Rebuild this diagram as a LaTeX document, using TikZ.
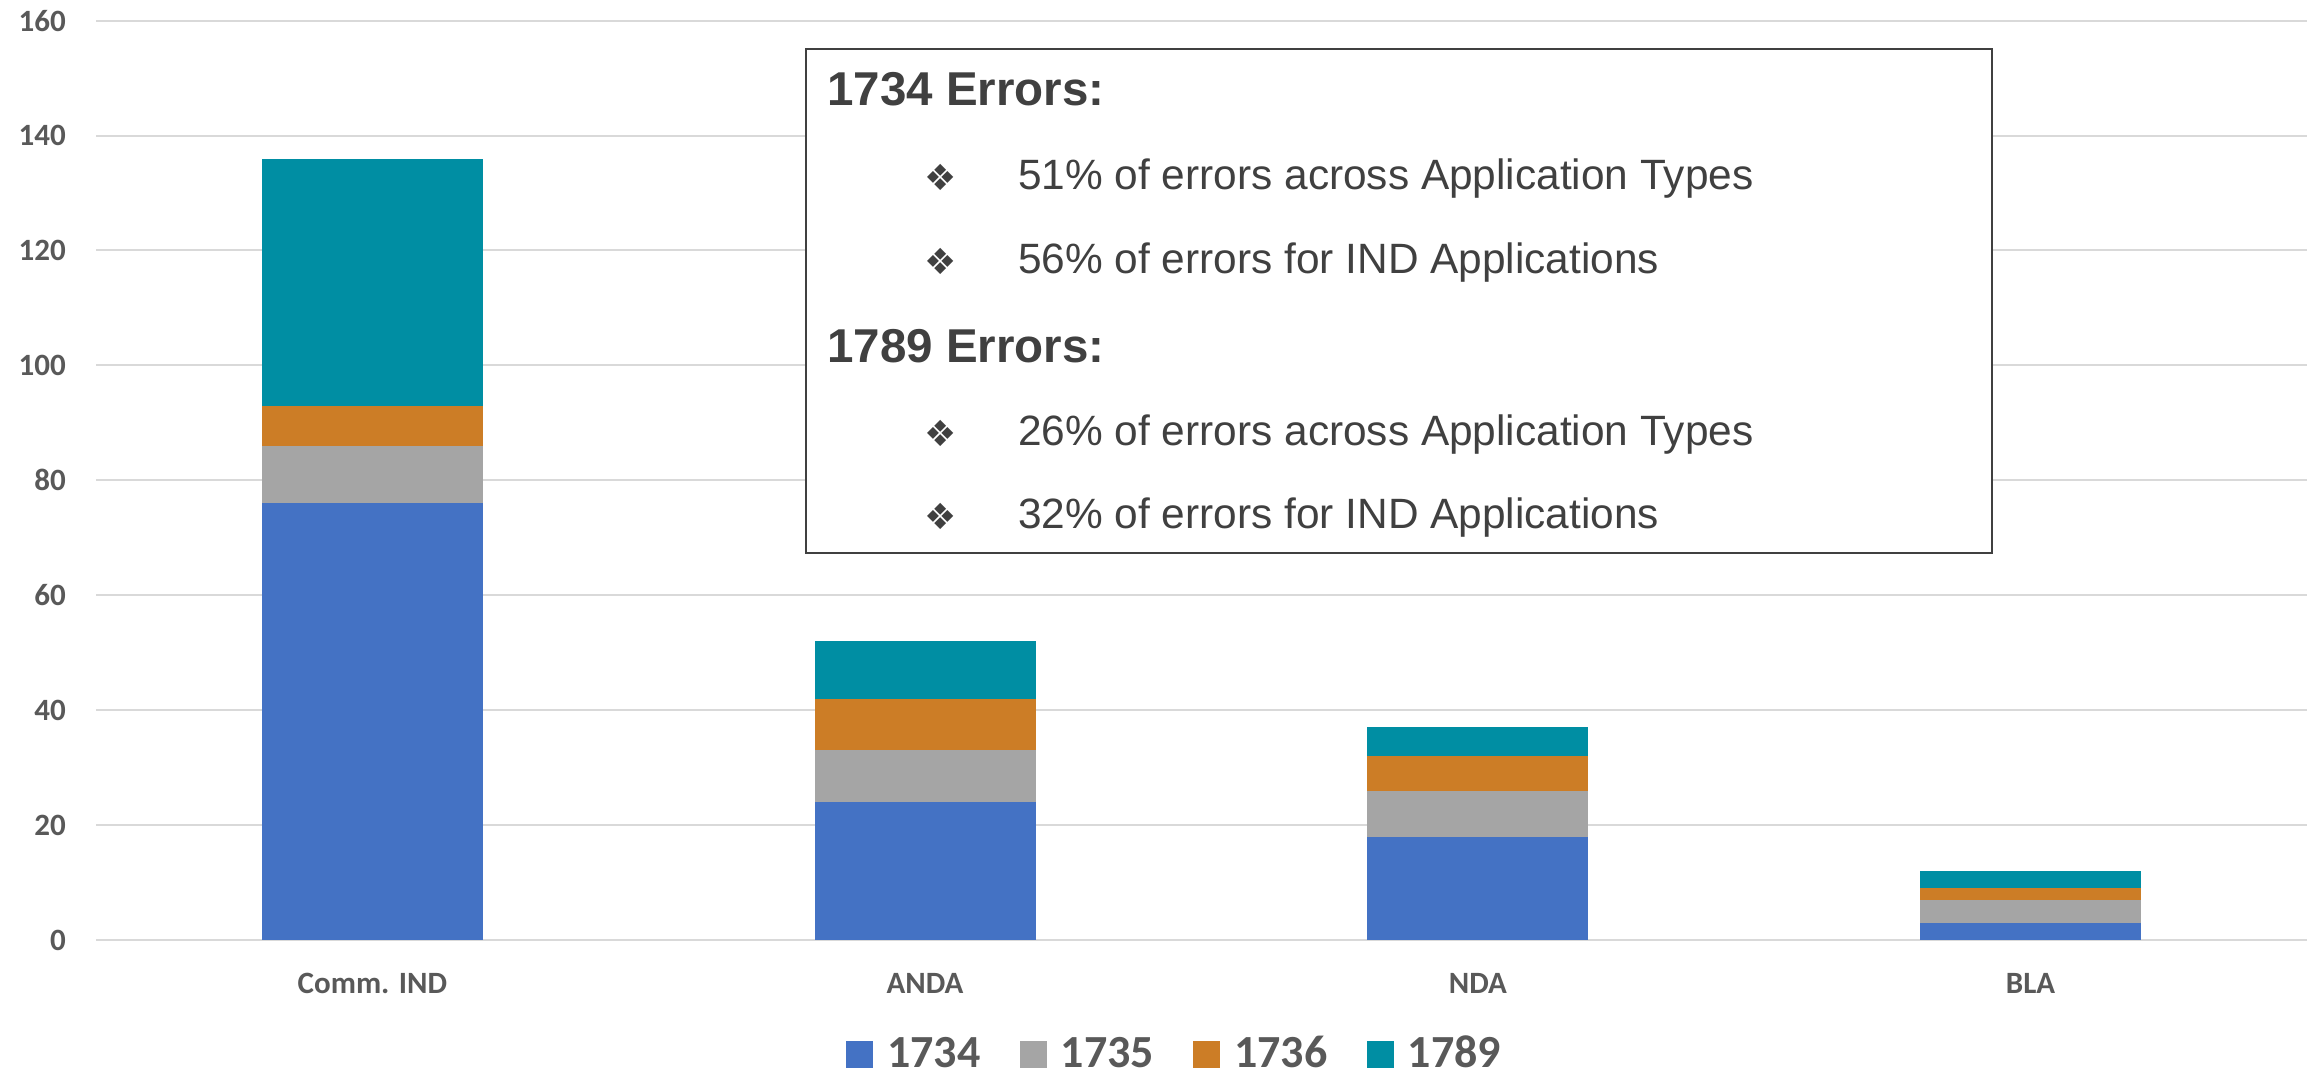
\documentclass[tikz,border=0pt]{standalone}
\usepackage{fontspec}
\newfontfamily\axisfont{Carlito}
\newfontfamily\boxfont{Liberation Sans}
\newfontfamily\dingfont{DejaVu Sans}
\definecolor{cA}{HTML}{4472C4}
\definecolor{cB}{HTML}{A5A5A5}
\definecolor{cC}{HTML}{CC7D26}
\definecolor{cD}{HTML}{008EA3}
\definecolor{gridc}{HTML}{D9D9D9}
\definecolor{axtext}{HTML}{595959}
\definecolor{boxtext}{HTML}{404040}
\tikzset{
  gridline/.style={draw=gridc, line width=2pt},
  ylab/.style={anchor=east, inner sep=0pt, text=axtext, font=\axisfont\bfseries\fontsize{31}{37}\selectfont},
  xlab/.style={anchor=base, inner sep=0pt, text=axtext, font=\axisfont\bfseries\fontsize{31}{37}\selectfont},
  leglab/.style={anchor=base west, inner sep=0pt, text=axtext, font=\axisfont\bfseries\fontsize{46}{55}\selectfont},
  boxhead/.style={anchor=base west, inner sep=0pt, text=boxtext, font=\boxfont\bfseries\fontsize{47.5}{56}\selectfont},
  boxline/.style={anchor=base west, inner sep=0pt, text=boxtext, font=\boxfont\fontsize{42.4}{50}\selectfont},
  ding/.style={anchor=center, inner sep=0pt, text=boxtext, font=\dingfont\fontsize{36}{42}\selectfont},
  infobox/.style={draw=boxtext, line width=1.6pt, fill=white}
}
\begin{document}
\begin{tikzpicture}[x=1pt,y=-1pt]
\useasboundingbox (0,0) rectangle (2315,1073);
% grid and y labels
\foreach \v in {0,20,...,160}{
  \draw[gridline] (96,{940-5.746*\v}) -- (2307,{940-5.746*\v});
  \node[ylab] (y\v) at (66,{940-5.746*\v}) {\v};
}
% bars
\foreach \i/\c/\a/\b/\cc/\d/\name in {1/372.4/76/86/93/136/Comm. IND, 2/925.1/24/33/42/52/ANDA, 3/1477.9/18/26/32/37/NDA, 4/2030.6/3/7/9/12/BLA}{
  \fill[cA] ({\c-110.5},940) rectangle ({\c+110.5},{940-5.746*\a});
  \fill[cB] ({\c-110.5},{940-5.746*\a}) rectangle ({\c+110.5},{940-5.746*\b});
  \fill[cC] ({\c-110.5},{940-5.746*\b}) rectangle ({\c+110.5},{940-5.746*\cc});
  \fill[cD] ({\c-110.5},{940-5.746*\cc}) rectangle ({\c+110.5},{940-5.746*\d});
  \node[xlab] (x\i) at (\c,993) {\name};
}
% legend
\foreach \k/\px/\col in {1734/846/cA, 1735/1019.5/cB, 1736/1193/cC, 1789/1366.5/cD}{
  \fill[\col] (\px,1041) rectangle ({\px+27},1068);
  \node[leglab] (l\k) at ({\px+41},1067) {\k};
}
% info box
\draw[infobox] (806,49) rectangle (1992,553);
\node[boxhead] (h1) at (827,105) {1734 Errors:};
\node[ding] (d1) at (941,177) {❖};
\node[boxline] (t1) at (1018,189) {51\% of errors across Application Types};
\node[ding] (d2) at (941,261) {❖};
\node[boxline] (t2) at (1018,273) {56\% of errors for IND Applications};
\node[boxhead] (h2) at (827,362) {1789 Errors:};
\node[ding] (d3) at (941,433) {❖};
\node[boxline] (t3) at (1018,445) {26\% of errors across Application Types};
\node[ding] (d4) at (941,516) {❖};
\node[boxline] (t4) at (1018,528) {32\% of errors for IND Applications};
\end{tikzpicture}
\end{document}
